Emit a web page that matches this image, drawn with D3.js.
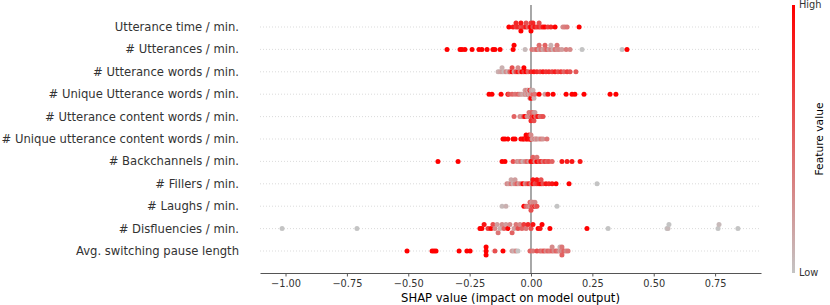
<!DOCTYPE html>
<html>
<head>
<meta charset="utf-8">
<script src="https://cdn.jsdelivr.net/npm/d3@7"></script>
<style>
  html, body { margin: 0; padding: 0; background: #fff; }
  svg { display: block; font-family: "DejaVu Sans", sans-serif; }
</style>
</head>
<body>
<svg id="chart" width="830" height="305"></svg>
<script>
// ---------------- DATA ----------------
const features = [
  "Utterance time / min.",
  "# Utterances / min.",
  "# Utterance words / min.",
  "# Unique Utterance words / min.",
  "# Utterance content words / min.",
  "# Unique utterance content words / min.",
  "# Backchannels / min.",
  "# Fillers / min.",
  "# Laughs / min.",
  "# Disfluencies / min.",
  "Avg. switching pause length"
];

const xTicks = [-1.00, -0.75, -0.50, -0.25, 0.00, 0.25, 0.50, 0.75];

// SHAP values (per feature) and normalised feature values (0 = low, 1 = high)
const shapUtteranceTime = [-0.090,-0.073,-0.061,-0.061,-0.053,-0.041,-0.041,-0.041,-0.029,-0.020,-0.020,-0.012,-0.004,0.000,0.000,0.000,0.008,0.008,0.016,0.024,0.033,0.033,0.041,0.049,0.057,0.069,0.081,0.098,0.130,0.138,0.147,0.196];
const featUtteranceTime = [1.0,0.9,0.7,0.8,0.8,0.6,0.9,1.0,0.7,0.9,0.6,0.5,0.8,1.0,0.7,1.0,0.6,0.8,0.9,0.7,0.8,0.6,0.6,0.9,1.0,0.7,0.8,1.0,0.3,0.35,0.4,1.0];

const shapUtterances = [-0.342,-0.289,-0.281,-0.269,-0.240,-0.212,-0.200,-0.179,-0.155,-0.147,-0.126,-0.073,-0.069,-0.024,0.004,0.016,0.024,0.033,0.033,0.041,0.049,0.057,0.057,0.065,0.073,0.081,0.081,0.090,0.098,0.106,0.106,0.114,0.126,0.143,0.159,0.208,0.371,0.391];
const featUtterances = [1,1,1,1,1,1,1,1,1,1,1,1,1,0.05,0.4,0.3,0.5,0.2,0.45,0.4,0.15,0.3,0.5,0.5,0.2,0.35,0.1,0.1,0.4,0.25,0.4,0.3,0.2,0.35,0.3,0,0,1];

const shapUttWords = [-0.134,-0.126,-0.118,-0.118,-0.110,-0.102,-0.094,-0.086,-0.077,-0.077,-0.069,-0.061,-0.053,-0.053,-0.045,-0.037,-0.029,-0.029,-0.020,-0.012,0.000,0.012,0.024,0.037,0.049,0.061,0.073,0.086,0.098,0.110,0.122,0.134,0.147,0.159,0.183];
const featUttWords = [0.1,0.15,0.2,0.1,0.05,0.3,0.1,0.5,1.0,0.6,0.2,0.6,0.9,0.3,0.4,1.0,0.7,1.0,1.0,0.5,0.8,0.9,0.8,0.7,0.9,0.75,0.8,0.7,0.85,0.6,0.75,0.5,0.7,0.6,0.55];

const shapUniqueWords = [-0.171,-0.159,-0.122,-0.094,-0.090,-0.077,-0.065,-0.053,-0.045,-0.037,-0.029,-0.024,-0.024,-0.020,-0.016,-0.016,-0.012,-0.012,-0.008,-0.004,-0.004,0.000,0.000,0.000,0.004,0.008,0.008,0.012,0.016,0.033,0.057,0.069,0.090,0.143,0.167,0.179,0.216,0.322,0.346];
const featUniqueWords = [1,1,1,1,0.6,0.5,0.4,0.5,0.3,0.2,0.1,0.3,0.2,0.2,0.1,0.4,0.4,0.15,0.15,0.9,0.3,0.3,0.2,1.0,0.2,0.5,0.1,0.1,0.4,1,0.2,0.9,1,1,1,1,1,1,1];

const shapContentWords = [-0.069,-0.045,-0.037,-0.029,-0.024,-0.016,-0.008,-0.008,-0.004,0.000,0.000,0.000,0.004,0.004,0.008,0.012,0.012,0.012,0.016,0.016,0.020,0.024,0.029,0.037,0.041,0.049];
const featContentWords = [0.5,0.3,0.2,0.6,1.0,0.3,0.2,0.4,0.4,0.15,0.3,0.8,0.8,0.5,0.5,1.0,0.3,0.6,1.0,0.2,0.3,0.6,0.9,0.4,0.5,0.6];

const shapUniqueContent = [-0.114,-0.106,-0.094,-0.073,-0.065,-0.041,-0.033,-0.029,-0.020,-0.020,-0.016,-0.008,-0.008,-0.004,0.000,0.000,0.004,0.008,0.016,0.020,0.024,0.033,0.041,0.049,0.065];
const featUniqueContent = [1,1,1,1,1,1,0.9,1,0.8,1,1,1,0.9,0.9,1,0.3,0.3,0.2,0.4,0.1,0.3,0.2,0.35,0.25,0.4];

const shapBackchannels = [-0.379,-0.297,-0.118,-0.106,-0.073,-0.057,-0.049,-0.041,-0.033,-0.024,-0.016,-0.008,0.000,0.008,0.008,0.016,0.024,0.024,0.033,0.041,0.049,0.057,0.065,0.073,0.086,0.126,0.147,0.167,0.200];
const featBackchannels = [1,1,1,1,0.6,0.3,0.2,0.4,0.1,0.3,0.5,0.2,1,0.9,0.5,0.3,1,0.4,0.6,0.8,0.4,0.7,0.5,0.6,0.5,0.9,0.85,0.9,0.9];

const shapFillers = [-0.098,-0.090,-0.081,-0.081,-0.073,-0.065,-0.065,-0.057,-0.049,-0.041,-0.033,-0.024,-0.016,-0.008,0.000,0.008,0.008,0.016,0.024,0.024,0.033,0.041,0.041,0.049,0.061,0.073,0.086,0.102,0.155,0.269];
const featFillers = [0.3,0.2,0.4,0.15,0.1,0.3,0.2,0.5,0.2,0.4,1,0.3,0.5,0.8,0.4,1,0.9,0.6,0.7,0.9,0.9,1,0.6,0.6,0.9,0.8,0.9,1,1,0];

const shapLaughs = [-0.118,-0.102,-0.029,-0.020,-0.012,-0.008,-0.004,-0.004,0.000,0.000,0.000,0.004,0.004,0.008,0.008,0.012,0.016,0.016,0.020,0.024,0.106];
const featLaughs = [0.05,0.1,1,0.5,0.3,0.4,0.2,0.5,0.3,0.4,0.6,0.5,0.2,0.7,0.3,0.4,1,0.3,0.3,0.6,0];

const shapDisfluencies = [-1.014,-0.709,-0.208,-0.200,-0.191,-0.175,-0.163,-0.155,-0.147,-0.138,-0.134,-0.126,-0.118,-0.110,-0.102,-0.094,-0.086,-0.077,-0.069,-0.061,-0.053,-0.045,-0.037,-0.029,-0.020,-0.012,0.000,0.008,0.029,0.037,0.045,0.077,0.228,0.314,0.554,0.558,0.562,0.762,0.766,0.843];
const featDisfluencies = [0,0,1,1,0.9,0.7,1,0.6,0.3,0.2,0.4,0.1,0.3,0.5,0.2,1,0.3,0.5,0.2,0.4,0.6,0.3,0.5,0.7,0.4,0.8,0.6,0.9,1,0.9,1,1,1,0,0,0.05,0,0,0.05,0];

const shapPause = [-0.505,-0.403,-0.395,-0.387,-0.293,-0.261,-0.248,-0.183,-0.183,-0.183,-0.147,-0.114,-0.077,-0.069,-0.061,-0.053,-0.004,0.008,0.024,0.037,0.045,0.053,0.061,0.069,0.077,0.086,0.086,0.094,0.102,0.110,0.118,0.118,0.122,0.126,0.126,0.134,0.143,0.151];
const featPause = [1,1,1,1,1,1,1,1,1,1,0.6,1,0.2,0.1,0.3,0,0.5,0.4,0.6,0.5,0.4,0.6,0.3,0.5,0.4,0.5,0.3,0.3,0.5,0.4,0.1,0.1,0.3,0.4,0.5,0.5,0.3,0.4];

const shapRows = [shapUtteranceTime, shapUtterances, shapUttWords, shapUniqueWords, shapContentWords,
  shapUniqueContent, shapBackchannels, shapFillers, shapLaughs, shapDisfluencies, shapPause];
const featRows = [featUtteranceTime, featUtterances, featUttWords, featUniqueWords, featContentWords,
  featUniqueContent, featBackchannels, featFillers, featLaughs, featDisfluencies, featPause];

// ---------------- LAYOUT ----------------
const svg = d3.select("#chart");
const x = d3.scaleLinear().domain([-1.104, 0.937]).range([260, 761]);
const y = d3.scalePoint().domain(features).range([27, 251]);
const rowStep = y.step();
const axisY = 273, topY = 5;
const color = d3.scaleLinear().domain([0, 1]).range(["rgb(196,196,196)", "rgb(255,0,0)"]).interpolate(d3.interpolateRgb);

// beeswarm offsets (SHAP style binning)
function swarm(vals) {
  const N = vals.length, nbins = 100;
  const mn = d3.min(vals), mx = d3.max(vals);
  const quant = vals.map(v => Math.round(nbins * (v - mn) / (mx - mn + 1e-8)));
  const inds = d3.range(N).sort((a, b) => quant[a] - quant[b] || a - b);
  let layer = 0, last = -1;
  const ys = new Array(N).fill(0);
  for (const i of inds) {
    if (quant[i] !== last) layer = 0;
    ys[i] = Math.ceil(layer / 2) * ((layer % 2) * 2 - 1);
    layer++; last = quant[i];
  }
  const m = d3.max(ys, v => v + 1);
  return ys.map(v => v * 0.9 * (0.4 / m));
}

// dotted row guides
svg.append("g").selectAll("line").data(features).join("line")
  .attr("x1", x.range()[0]).attr("x2", x.range()[1])
  .attr("y1", d => y(d)).attr("y2", d => y(d))
  .attr("stroke", "#cccccc").attr("stroke-width", 0.7)
  .attr("stroke-dasharray", "1,2");

// zero line
svg.append("line")
  .attr("x1", x(0)).attr("x2", x(0)).attr("y1", topY).attr("y2", axisY)
  .attr("stroke", "#999999").attr("stroke-width", 1.7);

// points
const pts = svg.append("g");
features.forEach((f, i) => {
  const vals = shapRows[i], fv = featRows[i];
  const offs = swarm(vals);
  pts.append("g").selectAll("circle").data(vals.map((v, j) => ({v, c: fv[j], o: offs[j]})))
    .join("circle")
    .attr("cx", d => x(d.v))
    .attr("cy", d => y(f) - d.o * rowStep)
    .attr("r", 2.5)
    .attr("fill", d => color(d.c));
});

// y labels
svg.append("g").selectAll("text").data(features).join("text")
  .attr("x", 239).attr("y", d => y(d)).attr("dy", "0.35em")
  .attr("text-anchor", "end").attr("font-size", "11.6px").attr("fill", "#333333")
  .text(d => d);

// x axis
const xAxis = d3.axisBottom(x).tickValues(xTicks).tickFormat(d3.format(".2f"))
  .tickSize(3.5).tickSizeOuter(0).tickPadding(3.5);
const gx = svg.append("g").attr("transform", `translate(0,${axisY})`).call(xAxis);
gx.select(".domain").attr("stroke", "#555555");
gx.selectAll(".tick line").attr("stroke", "#555555");
gx.selectAll(".tick text").attr("font-size", "9.8px").attr("fill", "#333333")
  .attr("font-family", "DejaVu Sans, sans-serif");

svg.append("text")
  .attr("x", (x.range()[0] + x.range()[1]) / 2).attr("y", 302)
  .attr("text-anchor", "middle").attr("font-size", "11.6px").attr("fill", "#000")
  .text("SHAP value (impact on model output)");

// colour bar
const defs = svg.append("defs");
const grad = defs.append("linearGradient").attr("id", "cbar")
  .attr("x1", 0).attr("y1", 1).attr("x2", 0).attr("y2", 0);
d3.range(0, 1.0001, 0.1).forEach(t => {
  grad.append("stop").attr("offset", t).attr("stop-color", color(t));
});
svg.append("rect").attr("x", 792).attr("y", topY).attr("width", 3).attr("height", axisY - topY)
  .attr("fill", "url(#cbar)");
svg.append("text").attr("x", 799).attr("y", topY).attr("dy", "0.35em")
  .attr("font-size", "9.8px").attr("fill", "#333333").text("High");
svg.append("text").attr("x", 799).attr("y", axisY).attr("dy", "0.35em")
  .attr("font-size", "9.8px").attr("fill", "#333333").text("Low");
svg.append("text")
  .attr("transform", `translate(823,${(topY + axisY) / 2}) rotate(-90)`)
  .attr("text-anchor", "middle").attr("font-size", "10.7px").attr("fill", "#000")
  .text("Feature value");
</script>
</body>
</html>
